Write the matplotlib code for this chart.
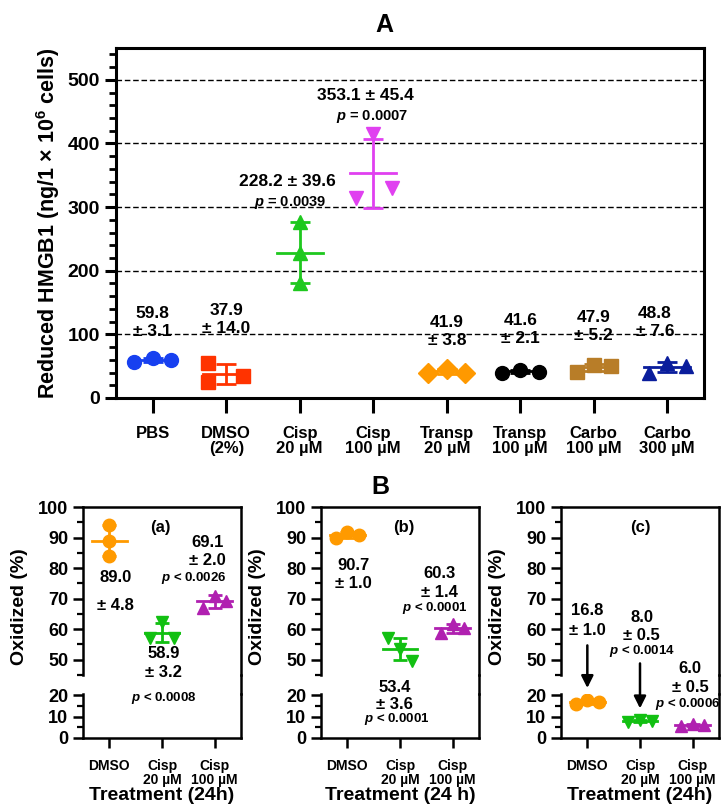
import numpy as np
import matplotlib
matplotlib.use('Agg')
import matplotlib.pyplot as plt
from matplotlib.lines import Line2D

plt.rcParams['font.family'] = ['Liberation Sans', 'DejaVu Sans']
plt.rcParams['font.weight'] = 'bold'
plt.rcParams['mathtext.fontset'] = 'custom'
plt.rcParams['mathtext.rm'] = 'Liberation Sans:bold'
plt.rcParams['mathtext.bf'] = 'Liberation Sans:bold'
plt.rcParams['mathtext.it'] = 'Liberation Sans:bold:italic'
plt.rcParams['mathtext.default'] = 'bf'

# ---- panel A data ----
groups_a = ['PBS', 'DMSO\n(2%)', 'Cisp\n20 µM', 'Cisp\n100 µM', 'Transp\n20 µM',
            'Transp\n100 µM', 'Carbo\n100 µM', 'Carbo\n300 µM']
pbs = [56.5, 63.0, 60.0]
dmso = [55.0, 24.5, 34.2]
cisp20 = [276.0, 228.0, 180.0]
cisp100 = [415.0, 330.0, 314.0]
transp20 = [39.5, 46.0, 40.0]
transp100 = [40.0, 44.0, 41.0]
carbo100 = [41.0, 52.0, 51.0]
carbo300 = [40.0, 55.0, 51.0]
values_a = [pbs, dmso, cisp20, cisp100, transp20, transp100, carbo100, carbo300]
colors_a = ['#1740f0', '#ff3300', '#1ec81e', '#e040f0', '#ff9900', '#000000', '#b87d28', '#0a1d9c']
markers_a = ['o', 's', '^', 'v', 'D', 'o', 's', '^']
jitter_a = [[-0.25, 0, 0.25], [-0.25, -0.25, 0.23], [0, 0, 0], [0, 0.25, -0.23],
            [-0.25, 0, 0.25], [-0.25, 0, 0.25], [-0.23, 0, 0.23], [-0.25, 0, 0.25]]
notes_a = [(0, 118, '59.8\n± 3.1', 12.5), (1, 123, '37.9\n± 14.0', 12.5),
           (1.83, 340, '228.2 ± 39.6', 12.5), (1.87, 307, r'$\mathit{p}$ = 0.0039', 10.5),
           (2.89, 475, '353.1 ± 45.4', 12.5), (2.98, 442, r'$\mathit{p}$ = 0.0007', 10.5),
           (4, 104, '41.9\n± 3.8', 12.5), (5, 108, '41.6\n± 2.1', 12.5),
           (6, 113, '47.9\n± 5.2', 12.5), (6.83, 118, '48.8\n± 7.6', 12.5)]

# ---- panel B data ----
groups_b = ['DMSO', 'Cisp\n20 µM', 'Cisp\n100 µM']
colors_b = ['#ff9a00', '#12c012', '#b020b0']
markers_b = ['o', 'v', '^']
vals_ba = [[94.0, 89.0, 84.0], [57.0, 62.5, 57.2], [67.0, 71.0, 69.3]]
vals_bb = [[89.7, 91.7, 90.7], [57.0, 53.5, 49.7], [58.8, 61.8, 60.3]]
vals_bc = [[15.9, 17.8, 16.7], [7.5, 8.5, 8.0], [5.5, 6.5, 6.0]]
notes_ba = [(0.12, 77, '89.0', 12), (0.12, 67.8, '± 4.8', 12),
            (1.03, 52, '58.9', 12), (1.03, 45.7, '± 3.2', 12), (1.03, 37.5, r'$\mathit{p}$ < 0.0008', 9.5),
            (1.87, 88.5, '69.1', 12), (1.87, 82.6, '± 2.0', 12), (1.6, 76.6, r'$\mathit{p}$ < 0.0026', 9.5),
            (0.96, 93.4, '(a)', 12)]
notes_bb = [(0.12, 80.9, '90.7', 12), (0.12, 75, '± 1.0', 12),
            (0.9, 40.8, '53.4', 12), (0.9, 35.5, '± 3.6', 12), (0.94, 30.6, r'$\mathit{p}$ < 0.0001', 9.5),
            (1.75, 78.3, '60.3', 12), (1.75, 72, '± 1.4', 12), (1.66, 66.8, r'$\mathit{p}$ < 0.0001', 9.5),
            (1.08, 93.4, '(b)', 12)]
notes_bc = [(0.0, 66, '16.8', 12), (0.0, 59.5, '± 1.0', 12),
            (1.03, 63.8, '8.0', 12), (1.03, 57.9, '± 0.5', 12), (1.03, 53, r'$\mathit{p}$ < 0.0014', 9.5),
            (1.95, 47, '6.0', 12), (1.95, 40.8, '± 0.5', 12), (1.9, 35.5, r'$\mathit{p}$ < 0.0006', 9.5),
            (1.0, 93.4, '(c)', 12)]

W, H = 728, 809
fig = plt.figure(figsize=(W / 100, H / 100), dpi=100)

def fx(px):
    return px / W

def fy(py):
    return 1 - py / H

# ================= panel A =================
axA = fig.add_axes([fx(116), fy(398), fx(704) - fx(116), fy(48) - fy(398)])
for i, (vals, c, m, jit) in enumerate(zip(values_a, colors_a, markers_a, jitter_a)):
    xs = [i + j for j in jit]
    axA.plot(xs, vals, linestyle='none', marker=m, color=c, markersize=10, zorder=3)
    mu = np.mean(vals)
    sd = np.std(vals, ddof=1)
    axA.plot([i - 0.31, i + 0.31], [mu, mu], color=c, lw=2, zorder=4)
    axA.errorbar(i, mu, yerr=sd, color=c, lw=2, capsize=7, capthick=2, zorder=4)

for y in [100, 200, 300, 400, 500]:
    axA.axhline(y, color='black', lw=1, ls=(0, (4, 2)), zorder=1)

axA.set_xlim(-0.5, 7.5)
axA.set_ylim(0, 550)
axA.set_yticks([0, 100, 200, 300, 400, 500])
axA.set_yticks(np.arange(0, 551, 20), minor=True)
axA.set_xticks(range(len(groups_a)))
axA.set_xticklabels(groups_a, fontsize=12, fontweight='bold', linespacing=1.05)
axA.tick_params(axis='y', labelsize=14, width=2.2, length=8, direction='out')
axA.tick_params(axis='y', which='minor', width=2, length=5)
axA.tick_params(axis='x', width=2.2, length=11, direction='out', pad=9)
for s in axA.spines.values():
    s.set_linewidth(2.2)
axA.set_ylabel('Reduced HMGB1 (ng/1 × 10$^{6}$ cells)', fontsize=15.5, fontweight='bold', labelpad=4)
for x, y, t, fs in notes_a:
    axA.text(x, y, t, ha='center', va='center', fontsize=fs, fontweight='bold', linespacing=1.25)
fig.text(fx(384), fy(25), 'A', ha='center', va='center', fontsize=18, fontweight='bold')
fig.text(fx(380), fy(487), 'B', ha='center', va='center', fontsize=18, fontweight='bold')

# ================= panel B =================
def panel_b(left, vals_list, notes, xlabel, stack_first=False):
    width = 158
    ax_hi = fig.add_axes([fx(left), fy(675), fx(left + width) - fx(left), fy(507) - fy(675)])
    ax_lo = fig.add_axes([fx(left), fy(738), fx(left + width) - fx(left), fy(694) - fy(738)])
    for i, (vals, c, m) in enumerate(zip(vals_list, colors_b, markers_b)):
        jit = [-0.22, 0, 0.22]
        if stack_first and i == 0:
            jit = [0, 0, 0]
        xs = [i + j for j in jit]
        mu = np.mean(vals)
        sd = np.std(vals, ddof=1)
        for ax in (ax_hi, ax_lo):
            ax.plot(xs, vals, linestyle='none', marker=m, color=c, markersize=9, zorder=3)
            ax.plot([i - 0.33, i + 0.33], [mu, mu], color=c, lw=2, zorder=4)
            ax.errorbar(i, mu, yerr=sd, color=c, lw=2, capsize=5, capthick=2, zorder=4)
    ax_hi.set_ylim(45, 100)
    ax_lo.set_ylim(0, 20.5)
    for ax in (ax_hi, ax_lo):
        ax.set_xlim(-0.5, 2.5)
        ax.patch.set_visible(False)
        for s in ax.spines.values():
            s.set_linewidth(1.8)
        ax.tick_params(axis='y', labelsize=13, width=1.8, length=7, direction='out')
        ax.tick_params(axis='y', which='minor', width=1.6, length=4)
    ax_hi.spines['bottom'].set_visible(False)
    ax_lo.spines['top'].set_visible(False)
    ax_hi.set_xticks([])
    ax_hi.set_yticks([50, 60, 70, 80, 90, 100])
    ax_hi.set_yticks(np.arange(45, 101, 5), minor=True)
    ax_lo.set_yticks([0, 10, 20])
    ax_lo.set_yticks([5, 15], minor=True)
    ax_lo.set_xticks(range(3))
    ax_lo.set_xticklabels(groups_b, fontsize=10, fontweight='bold', linespacing=1.05)
    ax_lo.tick_params(axis='x', width=1.8, length=7, direction='out', pad=8)
    ax_lo.set_xlabel(xlabel, fontsize=14, fontweight='bold', labelpad=0)
    xr = fx(left + width)
    fig.add_artist(Line2D([xr, xr], [fy(694), fy(675)], color='black', lw=1.8,
                          transform=fig.transFigure))
    fig.text(fx(left - 63), fy(607), 'Oxidized (%)', rotation=90, ha='center', va='center',
             fontsize=14, fontweight='bold')
    for x, y, t, fs in notes:
        ax_hi.text(x, y, t, ha='center', va='center', fontsize=fs, fontweight='bold',
                   clip_on=False, zorder=10)
    return ax_hi, ax_lo

panel_b(83, vals_ba, notes_ba, 'Treatment (24h)', stack_first=True)
panel_b(321, vals_bb, notes_bb, 'Treatment (24 h)')
hi_c, lo_c = panel_b(561, vals_bc, notes_bc, 'Treatment (24h)')

# arrows in (c)
for x, y0, y1 in [(0.0, 55.6, 22.0), (1.0, 49.7, 12.5)]:
    lo_c.annotate('', xy=(x, y1), xycoords=lo_c.transData, xytext=(x, y0),
                  textcoords=hi_c.transData, annotation_clip=False,
                  arrowprops=dict(arrowstyle='-|>', color='black', lw=1.8, mutation_scale=18))

fig.savefig('out.png', dpi=100)
